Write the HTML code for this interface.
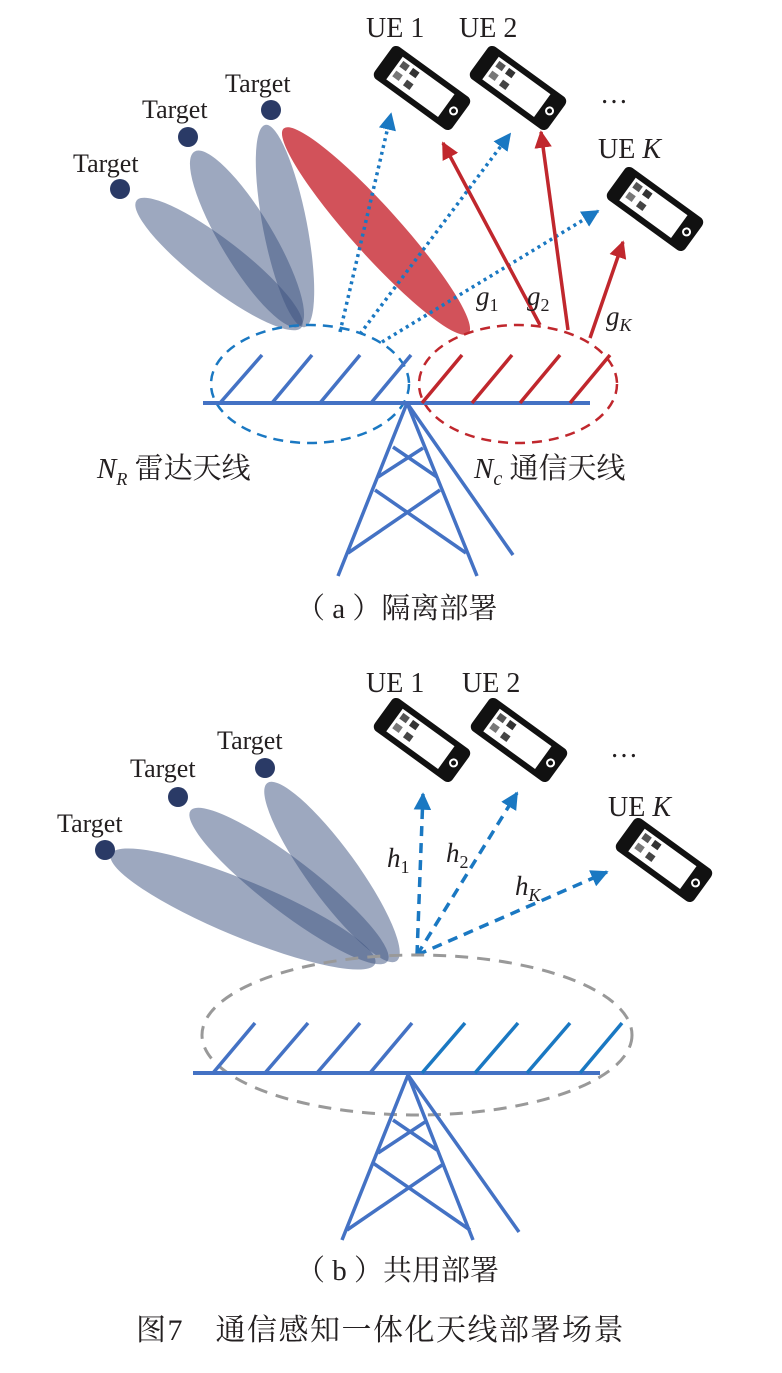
<!DOCTYPE html>
<html><head><meta charset="utf-8"><style>
html,body{margin:0;padding:0;background:#fff;}
svg{display:block;}
text{font-family:"Liberation Serif","Noto Serif CJK SC",serif;fill:#231f20;}
</style></head><body>
<svg width="782" height="1373" viewBox="0 0 782 1373" xmlns="http://www.w3.org/2000/svg">
<defs>
<g id="phone">
  <g transform="rotate(36)">
    <rect x="-48" y="-20" width="96" height="40" rx="6" fill="#111"/>
    <rect x="-34" y="-14" width="64" height="28" fill="#fff"/>
    <rect x="-31" y="-11" width="8" height="7" fill="#555"/>
    <rect x="-19" y="-11" width="8" height="7" fill="#333"/>
    <rect x="-31" y="1" width="8" height="7" fill="#777"/>
    <rect x="-17" y="2" width="8" height="7" fill="#444"/>
    <circle cx="39" cy="0" r="4.5" fill="#fff"/>
    <circle cx="39" cy="0" r="2.5" fill="#111"/>
  </g>
</g>
<marker id="ab" viewBox="0 0 10 10" refX="9" refY="5" markerWidth="5" markerHeight="5" orient="auto"><path d="M0,0 L10,5 L0,10z" fill="#1a78c2"/></marker>
<marker id="ar" viewBox="0 0 10 10" refX="9" refY="5" markerWidth="5" markerHeight="5" orient="auto"><path d="M0,0 L10,5 L0,10z" fill="#c0272d"/></marker>
</defs>

<!-- ===== (a) ===== -->
<g fill="#3c5280">
  <ellipse cx="219" cy="264" rx="104" ry="24" transform="rotate(37.6 219 264)" fill-opacity="0.5"/>
  <ellipse cx="247" cy="239" rx="102" ry="26" transform="rotate(59 247 239)" fill-opacity="0.5"/>
  <ellipse cx="285" cy="226" rx="103" ry="22" transform="rotate(79 285 226)" fill-opacity="0.5"/>
</g>
<ellipse cx="376" cy="231" rx="138" ry="24" transform="rotate(48 376 231)" fill="#d2525a"/>
<g fill="#2a3a66">
  <circle cx="120" cy="189" r="10"/><circle cx="188" cy="137" r="10"/><circle cx="271" cy="110" r="10"/>
</g>
<g font-size="26">
  <text x="73" y="172">Target</text><text x="142" y="118">Target</text><text x="225" y="92">Target</text>
</g>

<g stroke="#1a78c2" stroke-width="3.5" stroke-dasharray="3 4" fill="none">
  <line x1="340" y1="332" x2="391" y2="114" marker-end="url(#ab)"/>
  <line x1="360" y1="334" x2="510" y2="134" marker-end="url(#ab)"/>
  <line x1="382" y1="342" x2="598" y2="211" marker-end="url(#ab)"/>
</g>
<g stroke="#c0272d" stroke-width="3.5" fill="none">
  <line x1="540" y1="325" x2="443" y2="143" marker-end="url(#ar)"/>
  <line x1="568" y1="330" x2="541" y2="132" marker-end="url(#ar)"/>
  <line x1="590" y1="338" x2="623" y2="242" marker-end="url(#ar)"/>
</g>

<use href="#phone" x="422" y="88"/>
<use href="#phone" x="518" y="88"/>
<use href="#phone" x="655" y="209"/>
<g font-size="28">
  <text x="366" y="37">UE 1</text><text x="459" y="37">UE 2</text>
  <text x="600" y="103">…</text>
  <text x="598" y="158">UE <tspan font-style="italic">K</tspan></text>
</g>
<g font-size="27" font-style="italic">
  <text x="476" y="305">g<tspan font-size="18" font-style="normal" dy="6">1</tspan></text>
  <text x="527" y="305">g<tspan font-size="18" font-style="normal" dy="6">2</tspan></text>
  <text x="606" y="325">g<tspan font-size="18" dy="6">K</tspan></text>
</g>

<ellipse cx="310" cy="384" rx="99" ry="59" fill="none" stroke="#1a78c2" stroke-width="2.5" stroke-dasharray="10 7"/>
<ellipse cx="518" cy="384" rx="99" ry="59" fill="none" stroke="#c0272d" stroke-width="2.5" stroke-dasharray="10 7"/>
<line x1="203" y1="403" x2="590" y2="403" stroke="#4472c4" stroke-width="4"/>
<g stroke="#4472c4" stroke-width="3.5">
  <line x1="220" y1="403" x2="262" y2="355"/><line x1="272" y1="403" x2="312" y2="355"/>
  <line x1="320" y1="403" x2="360" y2="355"/><line x1="371" y1="403" x2="411" y2="355"/>
</g>
<g stroke="#c0272d" stroke-width="3.5">
  <line x1="422" y1="403" x2="462" y2="355"/><line x1="472" y1="403" x2="512" y2="355"/>
  <line x1="520" y1="403" x2="560" y2="355"/><line x1="570" y1="403" x2="610" y2="355"/>
</g>
<g stroke="#4472c4" stroke-width="3.5" fill="none">
  <line x1="407" y1="403" x2="338" y2="576"/><line x1="407" y1="403" x2="477" y2="576"/>
  <line x1="407" y1="403" x2="513" y2="555"/>
  <line x1="393" y1="447" x2="437" y2="477"/><line x1="423" y1="448" x2="378" y2="477"/>
  <line x1="375" y1="490" x2="466" y2="553"/><line x1="440" y1="490" x2="348" y2="553"/>
</g>
<g font-size="29">
  <text x="97" y="478"><tspan font-style="italic">N</tspan><tspan font-size="18" font-style="italic" dy="7">R</tspan><tspan dy="-7"> 雷达天线</tspan></text>
  <text x="474" y="478"><tspan font-style="italic">N</tspan><tspan font-size="20" font-style="italic" dy="7">c</tspan><tspan dy="-7"> 通信天线</tspan></text>
  <text x="296" y="618">（ a ）隔离部署</text>
</g>

<!-- ===== (b) ===== -->
<g fill="#3c5280">
  <ellipse cx="243" cy="909" rx="143" ry="28" transform="rotate(22.5 243 909)" fill-opacity="0.5"/>
  <ellipse cx="289" cy="886" rx="124" ry="26" transform="rotate(37.5 289 886)" fill-opacity="0.5"/>
  <ellipse cx="332" cy="872" rx="110" ry="25" transform="rotate(54 332 872)" fill-opacity="0.5"/>
</g>
<g fill="#2a3a66">
  <circle cx="105" cy="850" r="10"/><circle cx="178" cy="797" r="10"/><circle cx="265" cy="768" r="10"/>
</g>
<g font-size="26">
  <text x="57" y="832">Target</text><text x="130" y="777">Target</text><text x="217" y="749">Target</text>
</g>
<g stroke="#1a78c2" stroke-width="3.5" stroke-dasharray="10 7" fill="none">
  <line x1="417" y1="955" x2="423" y2="794" marker-end="url(#ab)"/>
  <line x1="417" y1="955" x2="517" y2="793" marker-end="url(#ab)"/>
  <line x1="417" y1="955" x2="607" y2="872" marker-end="url(#ab)"/>
</g>
<use href="#phone" x="422" y="740"/>
<use href="#phone" x="519" y="740"/>
<use href="#phone" x="664" y="860"/>
<g font-size="28">
  <text x="366" y="692">UE 1</text><text x="462" y="692">UE 2</text>
  <text x="610" y="757">…</text>
  <text x="608" y="816">UE <tspan font-style="italic">K</tspan></text>
</g>
<g font-size="27" font-style="italic">
  <text x="387" y="867">h<tspan font-size="18" font-style="normal" dy="6">1</tspan></text>
  <text x="446" y="862">h<tspan font-size="18" font-style="normal" dy="6">2</tspan></text>
  <text x="515" y="895">h<tspan font-size="18" dy="6">K</tspan></text>
</g>
<ellipse cx="417" cy="1035" rx="215" ry="80" fill="none" stroke="#999" stroke-width="3" stroke-dasharray="13 9"/>
<line x1="193" y1="1073" x2="600" y2="1073" stroke="#4472c4" stroke-width="4"/>
<g stroke="#4472c4" stroke-width="3.5">
  <line x1="213" y1="1073" x2="255" y2="1023"/><line x1="265" y1="1073" x2="308" y2="1023"/>
  <line x1="317" y1="1073" x2="360" y2="1023"/><line x1="370" y1="1073" x2="412" y2="1023"/>
</g>
<g stroke="#1a78c2" stroke-width="3.5">
  <line x1="422" y1="1073" x2="465" y2="1023"/><line x1="475" y1="1073" x2="518" y2="1023"/>
  <line x1="527" y1="1073" x2="570" y2="1023"/><line x1="580" y1="1073" x2="622" y2="1023"/>
</g>
<g stroke="#4472c4" stroke-width="3.5" fill="none">
  <line x1="408" y1="1075" x2="342" y2="1240"/><line x1="408" y1="1075" x2="473" y2="1240"/>
  <line x1="408" y1="1075" x2="519" y2="1232"/>
  <line x1="393" y1="1120" x2="437" y2="1150"/><line x1="425" y1="1122" x2="378" y2="1153"/>
  <line x1="373" y1="1163" x2="470" y2="1230"/><line x1="442" y1="1165" x2="347" y2="1230"/>
</g>
<g font-size="29">
  <text x="296" y="1280">（ b ）共用部署</text>
</g>
<text x="136" y="1340" font-size="30" letter-spacing="1.5">图7　通信感知一体化天线部署场景</text>
</svg>
</body></html>
